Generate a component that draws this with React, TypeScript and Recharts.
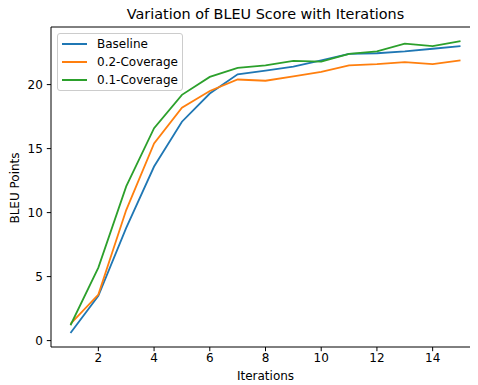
import React from 'react';
import { LineChart, Line, XAxis, YAxis } from 'recharts';

const iterations = [1, 2, 3, 4, 5, 6, 7, 8, 9, 10, 11, 12, 13, 14, 15];
const baseline = [0.6, 3.5, 8.8, 13.6, 17.1, 19.3, 20.8, 21.1, 21.4, 21.9, 22.4, 22.45, 22.6, 22.8, 23.0];
const coverage02 = [1.3, 3.6, 10.2, 15.4, 18.2, 19.5, 20.4, 20.3, 20.65, 21.0, 21.5, 21.6, 21.75, 21.6, 21.9];
const coverage01 = [1.2, 5.7, 12.05, 16.6, 19.2, 20.6, 21.3, 21.5, 21.85, 21.8, 22.4, 22.6, 23.2, 23.0, 23.4];
const xTicks = [2, 4, 6, 8, 10, 12, 14];
const yTicks = [0, 5, 10, 15, 20];

const seriesNames = ['Baseline', '0.2-Coverage', '0.1-Coverage'];
const seriesKeys = ['baseline', 'cov02', 'cov01'];
const colors = ['#1f77b4', '#ff7f0e', '#2ca02c'];

const data = iterations.map((it, i) => ({
  it,
  baseline: baseline[i],
  cov02: coverage02[i],
  cov01: coverage01[i],
}));

const font = 'DejaVu Sans, sans-serif';

export default function App() {
  return (
    <div
      style={{
        position: 'relative',
        margin: '-8px -8px 0 -8px',
        width: 478,
        height: 385,
        overflow: 'hidden',
        fontFamily: font,
        background: '#fff',
      }}
    >
      <LineChart width={490} height={385} data={data} margin={{ top: 26, right: 10, bottom: 8, left: 11 }}>
        <XAxis
          dataKey="it"
          type="number"
          domain={[0.3, 15.7]}
          ticks={xTicks}
          allowDataOverflow
          interval={0}
          height={30}
          tickSize={4.2}
          tickMargin={2}
          stroke="#000"
          tick={{ fill: '#000', fontSize: 12, fontFamily: font }}
        />
        <XAxis xAxisId="top" orientation="top" type="number" domain={[0, 1]} height={1} tick={false} tickLine={false} stroke="#000" />
        <YAxis
          type="number"
          domain={[-0.5, 24.5]}
          ticks={yTicks}
          allowDataOverflow
          interval={0}
          width={40}
          tickSize={4.2}
          tickMargin={4}
          stroke="#000"
          tick={{ fill: '#000', fontSize: 12, fontFamily: font }}
        />
        <YAxis yAxisId="r" orientation="right" type="number" domain={[0, 1]} width={0} tick={false} tickLine={false} stroke="#000" />
        {seriesKeys.map((k, i) => (
          <Line
            key={k}
            dataKey={k}
            name={seriesNames[i]}
            stroke={colors[i]}
            strokeWidth={1.8}
            dot={false}
            isAnimationActive={false}
          />
        ))}
      </LineChart>
      <div
        style={{
          position: 'absolute',
          left: 0,
          width: 531,
          top: 5,
          textAlign: 'center',
          fontSize: 14.4,
          color: '#000',
          lineHeight: '18px',
        }}
      >
        Variation of BLEU Score with Iterations
      </div>
      <div
        style={{
          position: 'absolute',
          left: 0,
          width: 531,
          top: 368,
          textAlign: 'center',
          fontSize: 12,
          color: '#000',
          lineHeight: '16px',
        }}
      >
        Iterations
      </div>
      <div
        style={{
          position: 'absolute',
          left: 15,
          top: 188,
          transform: 'translate(-50%, -50%) rotate(-90deg)',
          fontSize: 12,
          color: '#000',
          whiteSpace: 'nowrap',
          lineHeight: '16px',
        }}
      >
        BLEU Points
      </div>
      <div
        style={{
          position: 'absolute',
          left: 57,
          top: 33,
          width: 124,
          height: 56,
          border: '1px solid #cccccc',
          borderRadius: 3,
          background: 'rgba(255,255,255,0.8)',
        }}
      >
        {seriesNames.map((n, i) => (
          <div
            key={n}
            style={{ position: 'absolute', left: 0, top: 2 + i * 18.2, height: 16, display: 'flex', alignItems: 'center' }}
          >
            <div style={{ marginLeft: 4, width: 25, height: 2, background: colors[i] }} />
            <div style={{ marginLeft: 10, fontSize: 12, color: '#000', lineHeight: '16px', whiteSpace: 'nowrap' }}>{n}</div>
          </div>
        ))}
      </div>
    </div>
  );
}
